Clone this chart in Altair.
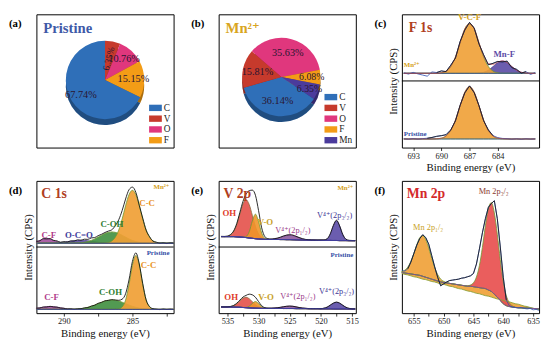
import math
import altair as alt
import pandas as pd

SERIF = "Times New Roman, Liberation Serif, DejaVu Serif, serif"
W, H1, H2 = 140, 136, 135
OFF = 70  # upper spectrum sits in the upper half of the stacked panels

# ---------------- data ----------------
# (a) Pristine composition (clockwise from 12 o'clock)
pie_a_elem = ["V", "O", "F", "C"]
pie_a_val = [6.35, 10.76, 15.15, 67.74]
legend_a = ["C", "V", "O", "F"]
# (b) Mn2+ composition (clockwise)
pie_b_elem = ["O", "F", "Mn", "C", "V"]
pie_b_val = [35.63, 6.08, 6.35, 36.14, 15.81]
legend_b = ["C", "V", "O", "F", "Mn"]

# (c) F 1s
E_c = [694.0, 693.5, 693.0, 692.5, 692.0, 691.5, 691.0, 690.5, 690.0, 689.5,
       689.0, 688.5, 688.0, 687.5, 687.0, 686.5, 686.0, 685.5, 685.0, 684.5,
       684.0, 683.5, 683.0, 682.5, 682.0, 681.5, 681.0, 680.5, 680.0]
c_mn_bg = 8
c_mn_vcf = [0, 0, 0, 0, 0, 0, 0, 0, 0.6, 2.3,
            7.2, 17.2, 32.1, 46.8, 52.0, 46.8, 32.1, 17.2, 7.2, 2.3,
            0.6, 0, 0, 0, 0, 0, 0, 0, 0]
c_mn_mnf = [0, 0, 0, 0, 0, 0, 0, 0, 0, 0,
            0, 0, 0, 0, 0, 0, 0.3, 1.1, 3.2, 7.1,
            11.2, 13.0, 11.2, 7.1, 3.2, 1.1, 0.3, 0, 0]
c_mn_raw = [0.5, -0.8, 1.0, -0.6, -1.8, -3.0, 1.5, 0.8, 2.5, 1.8,
            8.5, 16.0, 33.5, 45.5, 53.5, 47.5, 31.0, 19.5, 9.0, 10.5,
            12.5, 12.0, 12.8, 6.0, 4.2, 0.2, 1.8, -1.2, 0.9]
c_pr_bg = 9
c_pr_vcf = [0, 0, 0, 0, 0, 0, 0, 0.2, 0.9, 3.2,
            9.0, 19.9, 34.9, 49.1, 55.0, 49.1, 34.9, 19.9, 9.0, 3.2,
            0.9, 0.2, 0, 0, 0, 0, 0, 0, 0]
c_pr_raw = [0.3, -0.3, 0.5, -0.2, 0.4, 0.8, 1.6, 2.8, 3.5, 4.5,
            9.5, 19.0, 35.5, 48.5, 55.8, 48.6, 35.2, 19.2, 9.6, 3.5,
            1.5, 0.6, 0.4, -0.3, 0.3, -0.4, 0.3, -0.2, 0.2]

# (d) C 1s
E_d = [292.0, 291.75, 291.5, 291.25, 291.0, 290.75, 290.5, 290.25, 290.0, 289.75,
       289.5, 289.25, 289.0, 288.75, 288.5, 288.25, 288.0, 287.75, 287.5, 287.25,
       287.0, 286.75, 286.5, 286.25, 286.0, 285.75, 285.5, 285.25, 285.0, 284.75,
       284.5, 284.25, 284.0, 283.75, 283.5, 283.25, 283.0, 282.75, 282.5, 282.25,
       282.0]
d_mn_bg = 4
d_mn_cf = [1.6, 3.0, 4.4, 5.0, 4.4, 3.0, 1.6, 0.7, 0.2, 0,
           0, 0, 0, 0, 0, 0, 0, 0, 0, 0,
           0, 0, 0, 0, 0, 0, 0, 0, 0, 0,
           0, 0, 0, 0, 0, 0, 0, 0, 0, 0,
           0]
d_mn_oco = [0, 0, 0, 0, 0.1, 0.3, 0.5, 0.7, 1.1, 1.6,
            2.1, 2.6, 2.9, 3.0, 2.9, 2.6, 2.1, 1.6, 1.1, 0.7,
            0.5, 0.3, 0.1, 0, 0, 0, 0, 0, 0, 0,
            0, 0, 0, 0, 0, 0, 0, 0, 0, 0,
            0]
d_mn_coh = [0, 0, 0, 0, 0, 0, 0, 0, 0, 0,
            0, 0.1, 0.3, 0.5, 1.0, 1.8, 3.0, 4.6, 6.5, 8.5,
            10.3, 11.5, 12.0, 11.5, 10.3, 8.5, 6.5, 4.6, 3.0, 1.8,
            1.0, 0.5, 0.3, 0.1, 0, 0, 0, 0, 0, 0,
            0]
d_mn_cc = [0, 0, 0, 0, 0, 0, 0, 0, 0, 0,
           0, 0, 0, 0, 0, 0, 0, 0, 0, 0,
           0.2, 0.8, 2.5, 6.4, 13.9, 25.6, 39.6, 51.4, 56.0, 51.4,
           39.6, 25.6, 13.9, 6.4, 2.5, 0.8, 0.2, 0, 0, 0,
           0]
d_mn_raw = [2.0, 2.6, 4.9, 4.6, 4.9, 3.0, 2.5, 1.1, 1.7, 1.3,
            2.5, 2.4, 3.6, 3.2, 4.3, 4.1, 5.6, 6.0, 8.0, 9.5,
            11.4, 12.9, 14.2, 18.6, 24.8, 34.6, 46.8, 56.6, 59.4, 53.8,
            40.2, 26.6, 13.8, 6.9, 2.2, 1.1, 0.0, 0.4, -0.3, 0.3,
            0.1]
d_pr_bg = 4
d_pr_cf = [1.1, 1.7, 2.3, 2.8, 3.0, 2.8, 2.3, 1.7, 1.1, 0.6,
           0.3, 0.1, 0, 0, 0, 0, 0, 0, 0, 0,
           0, 0, 0, 0, 0, 0, 0, 0, 0, 0,
           0, 0, 0, 0, 0, 0, 0, 0, 0, 0,
           0]
d_pr_coh = [0, 0, 0, 0, 0, 0, 0, 0, 0, 0,
            0.1, 0.2, 0.4, 0.8, 1.4, 2.2, 3.3, 4.6, 6.1, 7.6,
            8.8, 9.7, 10.0, 9.7, 8.8, 7.6, 6.1, 4.6, 3.3, 2.2,
            1.4, 0.8, 0.4, 0.2, 0.1, 0, 0, 0, 0, 0,
            0]
d_pr_cc = [0, 0, 0, 0, 0, 0, 0, 0, 0, 0,
           0, 0, 0, 0, 0, 0, 0, 0, 0, 0,
           0, 0, 0, 0, 0.4, 2.5, 9.8, 26.1, 46.9, 57.0,
           46.9, 26.1, 9.8, 2.5, 0.4, 0, 0, 0, 0, 0,
           0]
d_pr_raw = [1.3, 1.5, 2.5, 2.6, 3.2, 2.6, 2.4, 1.5, 1.2, 0.4,
            0.6, 0.1, 0.6, 0.7, 1.6, 2.0, 3.5, 4.4, 6.4, 7.4,
            9.1, 9.5, 10.3, 9.9, 9.6, 10.8, 16.5, 31.2, 50.8, 59.8,
            48.0, 27.4, 10.0, 3.0, 0.7, 0.2, -0.2, 0.3, -0.1, 0.2,
            0.0]

# (e) V 2p
E_e = [536.0, 535.5, 535.0, 534.5, 534.0, 533.5, 533.0, 532.5, 532.0, 531.5,
       531.0, 530.5, 530.0, 529.5, 529.0, 528.5, 528.0, 527.5, 527.0, 526.5,
       526.0, 525.5, 525.0, 524.5, 524.0, 523.5, 523.0, 522.5, 522.0, 521.5,
       521.0, 520.5, 520.0, 519.5, 519.0, 518.5, 518.0, 517.5, 517.0, 516.5,
       516.0, 515.5, 515.0, 514.5]
e_mn_bg = [11, 11, 11, 11, 11, 10.8, 10.6, 10.3, 10.0, 9.6,
           9.2, 8.8, 8.5, 8.3, 8.1, 8.0, 8.0, 8.0, 8.0, 7.9,
           7.9, 7.8, 7.8, 7.7, 7.6, 7.5, 7.4, 7.3, 7.3, 7.2,
           7.2, 7.1, 7.1, 7.0, 7.0, 7.0, 6.9, 6.9, 6.8, 6.8,
           6.8, 6.7, 6.7, 6.7]
e_mn_oh = [0, 0, 0.4, 1.8, 5.4, 13.0, 24.3, 35.3, 40.0, 35.3,
           24.3, 13.0, 5.4, 1.8, 0.4, 0, 0, 0, 0, 0,
           0, 0, 0, 0, 0, 0, 0, 0, 0, 0,
           0, 0, 0, 0, 0, 0, 0, 0, 0, 0,
           0, 0, 0, 0]
e_mn_vo = [0, 0, 0, 0, 0, 0, 0, 0.1, 1.1, 6.5,
           18.4, 26.0, 18.4, 6.5, 1.1, 0.1, 0, 0, 0, 0,
           0, 0, 0, 0, 0, 0, 0, 0, 0, 0,
           0, 0, 0, 0, 0, 0, 0, 0, 0, 0,
           0, 0, 0, 0]
e_mn_v12 = [0, 0, 0, 0, 0, 0, 0, 0, 0, 0,
            0, 0, 0, 0, 0, 0, 0.2, 0.6, 1.2, 2.3,
            3.5, 4.6, 5.0, 4.6, 3.5, 2.3, 1.2, 0.6, 0.2, 0,
            0, 0, 0, 0, 0, 0, 0, 0, 0, 0,
            0, 0, 0, 0]
e_mn_v32 = [0, 0, 0, 0, 0, 0, 0, 0, 0, 0,
            0, 0, 0, 0, 0, 0, 0, 0, 0, 0,
            0, 0, 0, 0, 0, 0, 0, 0, 0, 0,
            0, 0, 0, 0.2, 1.4, 6.4, 15.6, 21.0, 15.6, 6.4,
            1.4, 0.2, 0, 0]
e_mn_raw = [0.3, 0.2, 0.5, 2.2, 6.0, 14.0, 26.0, 38.0, 46.0, 50.0,
            51.0, 46.0, 30.0, 12.0, 3.0, 0.8, 0.4, 0.8, 1.4, 2.5,
            3.8, 4.8, 5.2, 4.9, 3.8, 2.6, 1.5, 0.8, 0.4, 0.2,
            0.1, 0.2, 0.3, 0.5, 1.8, 7.0, 16.0, 21.5, 15.5, 6.5,
            1.6, 0.4, 0.2, 0.1]
e_pr_bg = [6.5, 6.5, 6.5, 6.5, 6.4, 6.3, 6.2, 6.0, 5.8, 5.6,
           5.4, 5.3, 5.2, 5.1, 5.0, 5.0, 5.0, 5.0, 5.0, 5.0,
           4.9, 4.9, 4.9, 4.9, 4.8, 4.8, 4.8, 4.8, 4.7, 4.7,
           4.7, 4.7, 4.6, 4.6, 4.6, 4.6, 4.5, 4.5, 4.5, 4.5,
           4.5, 4.4, 4.4, 4.4]
e_pr_oh = [0, 0, 0.1, 0.5, 1.5, 3.6, 6.7, 9.7, 11.0, 9.7,
           6.7, 3.6, 1.5, 0.5, 0.1, 0, 0, 0, 0, 0,
           0, 0, 0, 0, 0, 0, 0, 0, 0, 0,
           0, 0, 0, 0, 0, 0, 0, 0, 0, 0,
           0, 0, 0, 0]
e_pr_vo = [0, 0, 0, 0, 0, 0, 0, 0, 0.3, 1.7,
           4.9, 7.0, 4.9, 1.7, 0.3, 0, 0, 0, 0, 0,
           0, 0, 0, 0, 0, 0, 0, 0, 0, 0,
           0, 0, 0, 0, 0, 0, 0, 0, 0, 0,
           0, 0, 0, 0]
e_pr_v12 = [0, 0, 0, 0, 0, 0, 0, 0, 0, 0,
            0, 0, 0, 0, 0, 0, 0.1, 0.3, 0.6, 1.1,
            1.8, 2.3, 2.5, 2.3, 1.8, 1.1, 0.6, 0.3, 0.1, 0,
            0, 0, 0, 0, 0, 0, 0, 0, 0, 0,
            0, 0, 0, 0]
e_pr_v32 = [0, 0, 0, 0, 0, 0, 0, 0, 0, 0,
            0, 0, 0, 0, 0, 0, 0, 0, 0, 0,
            0, 0, 0, 0, 0, 0, 0, 0, 0, 0,
            0, 0, 0.1, 0.6, 1.7, 3.8, 6.0, 7.0, 6.0, 3.8,
            1.7, 0.6, 0.1, 0]
e_pr_raw = [0.1, 0.1, 0.2, 0.6, 1.8, 4.2, 7.6, 11.0, 13.0, 14.5,
            14.0, 11.5, 7.0, 2.8, 0.8, 0.3, 0.2, 0.4, 0.7, 1.2,
            1.9, 2.4, 2.6, 2.4, 1.9, 1.2, 0.7, 0.4, 0.2, 0.1,
            0.1, 0.1, 0.2, 0.7, 1.8, 3.9, 6.1, 7.2, 6.1, 3.9,
            1.8, 0.7, 0.2, 0.1]

# (f) Mn 2p
E_f = [657.0, 656.5, 656.0, 655.5, 655.0, 654.5, 654.0, 653.5, 653.0, 652.5,
       652.0, 651.5, 651.0, 650.5, 650.0, 649.5, 649.0, 648.5, 648.0, 647.5,
       647.0, 646.5, 646.0, 645.5, 645.0, 644.5, 644.0, 643.5, 643.0, 642.5,
       642.0, 641.5, 641.0, 640.5, 640.0, 639.5, 639.0, 638.5, 638.0, 637.5,
       637.0, 636.5, 636.0, 635.5, 635.0, 634.5, 634.0]
f_lin = [42, 41, 40.5, 39.5, 38.5, 38, 37, 36, 35.5, 34.5,
         33.5, 33, 32, 31, 30.5, 29.5, 28.5, 28, 27, 26,
         25.5, 24.5, 23.5, 23, 22, 21, 20.5, 19.5, 18.5, 18,
         17, 16, 15, 14.5, 13.5, 12.5, 12, 11, 10, 9.5,
         8.5, 7.5, 7, 6, 5, 4.5, 4]
f_shirley = [43, 42.5, 42, 41.5, 41, 40.5, 40, 39, 38, 37,
             36, 35, 34, 33, 32.5, 32, 31.5, 31, 30.5, 30,
             29.5, 29, 28.5, 28.5, 28, 27.5, 27, 26.5, 26, 24.5,
             23, 20, 17, 13.5, 10, 8, 7, 6.5, 6, 5.8,
             5.6, 5.5, 5.4, 5.2, 5.0, 4.8, 4.5]
f_p12 = [1.2, 3.0, 6.8, 13.2, 22.1, 32.0, 39.9, 43.0, 39.9, 32.0,
         22.1, 13.2, 6.8, 3.0, 1.2, 0.4, 0, 0, 0, 0,
         0, 0, 0, 0, 0, 0, 0, 0, 0, 0,
         0, 0, 0, 0, 0, 0, 0, 0, 0, 0,
         0, 0, 0, 0, 0, 0, 0]
f_p32 = [0, 0, 0, 0, 0, 0, 0, 0, 0, 0,
         0, 0, 0, 0, 0, 0, 0, 0, 0, 0,
         0, 0, 0.4, 1.3, 4.1, 10.7, 23.4, 43.1, 66.5, 86.2,
         94.0, 86.2, 66.5, 43.1, 23.4, 10.7, 4.1, 1.3, 0.4, 0,
         0, 0, 0, 0, 0, 0, 0]
f_raw = [45, 44.5, 47, 54, 63, 72, 79, 83, 80, 73,
         61, 49, 38, 29, 31, 33, 34.5, 35, 35.5, 36,
         37, 37.5, 38.5, 39.5, 42, 52, 68, 85, 100, 112,
         116, 119, 100, 70, 38, 14, 8, 6.5, 6, 5.5,
         6, 5, 4.5, 5, 3.5, 4, 3]

# ---------------- styles ----------------
PIE_COL = {"C": "#2F6FB8", "V": "#C63A2C", "O": "#E0377D", "F": "#F39C16", "Mn": "#4B3B9C"}
ORANGE = "#F0A035"
GREEN = "#6E9A2E"
PURPLE = "#5B4BA6"
BLUE = "#2D4EB0"
GOLD = "#D4A020"
PBLUE = "#3550A6"
TITLE_RED = "#B0401E"


def add(*cols):
    return [sum(v) for v in zip(*cols)]


def const(v, n):
    return [v] * n


# ---------------- helpers ----------------
YAX = alt.Axis(title="Intensity (CPS)", labels=False, ticks=False, domain=False, grid=False,
               titleFont=SERIF, titleFontSize=11, titleFontWeight="normal",
               titleColor="#111", titlePadding=3)


def spec_y(field):
    return alt.Y(f"{field}:Q", scale=alt.Scale(domain=[0, 140], nice=False, zero=False), axis=YAX)


def spec_x(domain, ticks, expr=None):
    ax = dict(values=ticks, title="Binding energy (eV)", labelFont=SERIF, labelFontSize=8.5,
              labelColor="#222", tickColor="#000", tickSize=3, tickWidth=0.8, domain=False,
              grid=False, labelPadding=1, labelFlush=False, titleFont=SERIF, titleFontSize=11,
              titleFontWeight="normal", titleColor="#111", titlePadding=2)
    if expr:
        ax["labelExpr"] = expr
    return alt.X("E:Q", scale=alt.Scale(domain=domain, reverse=True, nice=False, zero=False),
                 axis=alt.Axis(**ax))


def band(X, E, lo, hi, fill, stroke=None, op=0.9, sw=0.8):
    df = pd.DataFrame({"E": E, "lo": lo, "hi": hi})
    kw = dict(fill=fill, fillOpacity=op, interpolate="monotone")
    if stroke:
        kw.update(stroke=stroke, strokeWidth=sw)
    else:
        kw.update(strokeWidth=0)
    return alt.Chart(df).mark_area(**kw).encode(x=X, y=spec_y("hi"), y2="lo:Q")


def curve(X, E, y, color, sw=0.8, filt=None, interp="monotone"):
    ch = alt.Chart(pd.DataFrame({"E": E, "lo": y}))
    if filt:
        ch = ch.transform_filter(filt)
    return ch.mark_line(color=color, strokeWidth=sw, interpolate=interp).encode(x=X, y=spec_y("lo"))


def note(X, E, I, txt, color, size=9, weight="bold", align="center"):
    df = pd.DataFrame({"E": [E], "lo": [I], "t": [txt]})
    return alt.Chart(df).mark_text(font=SERIF, fontSize=size, fontWeight=weight, color=color,
                                   align=align, baseline="middle").encode(
        x=X, y=spec_y("lo"), text="t:N")


def ptext(txt, x, y, color, size, weight="bold", align="left"):
    return alt.Chart(pd.DataFrame({"t": [txt]})).mark_text(
        font=SERIF, fontSize=size, fontWeight=weight, color=color, align=align,
        baseline="middle").encode(x=alt.value(x), y=alt.value(y), text="t:N")


def tag(t):
    return ptext(t, -28, 10, "#000", 11)


def divider():
    return alt.Chart(pd.DataFrame({"lo": [OFF]})).mark_rule(color="black", strokeWidth=1).encode(
        y=spec_y("lo"))


# ---------------- pies ----------------
def pie(elems, vals, dom, start, title, tcolor, t, cx, cy, big_r, rot_small=False):
    df = pd.DataFrame({"elem": elems, "val": vals, "ord": list(range(len(elems))),
                       "lab": [f"{v:.2f}%" for v in vals]})
    R = 40
    theta = alt.Theta("val:Q", stack=True,
                      scale=alt.Scale(range=[start, start + 2 * math.pi]))
    color = alt.Color("elem:N", scale=alt.Scale(domain=dom, range=[PIE_COL[e] for e in dom]),
                      legend=alt.Legend(title=None, orient="bottom-right", offset=3,
                                        symbolType="M-1,-0.5H1V0.5H-1Z", symbolSize=169,
                                        symbolStrokeWidth=0, labelFont=SERIF, labelFontSize=9.5,
                                        labelColor="#222", rowPadding=0, labelOffset=2,
                                        padding=0, columnPadding=0))
    base = alt.Chart(df).encode(theta=theta, order=alt.Order("ord:Q"))
    side = base.mark_arc(radius=R).encode(color=color, x=alt.value(cx), y=alt.value(cy + 6))
    shade = base.mark_arc(radius=R, color="black", opacity=0.3).encode(
        x=alt.value(cx), y=alt.value(cy + 6))
    top = base.mark_arc(radius=R).encode(color=color, x=alt.value(cx), y=alt.value(cy))
    big = base.mark_text(radius=big_r, font=SERIF, fontSize=10.5, color="#2a1530").encode(
        x=alt.value(cx), y=alt.value(cy),
        text=alt.condition("datum.val > 10", alt.Text("lab:N"), alt.value("")))
    if rot_small:
        small = base.mark_text(radius=31, font=SERIF, fontSize=9.5, color="#2a1530",
                               angle=284, dx=-9).encode(
            x=alt.value(cx), y=alt.value(cy),
            text=alt.condition("datum.val < 10", alt.Text("lab:N"), alt.value("")))
    else:
        small = base.mark_text(radius=31, font=SERIF, fontSize=10, color="#2a1530").encode(
            x=alt.value(cx), y=alt.value(cy),
            text=alt.condition("datum.val < 10", alt.Text("lab:N"), alt.value("")))
    return alt.layer(side, shade, top, big, small,
                     ptext(title, 7, 14, tcolor, 15), tag(t)).properties(width=W, height=H1)


pa = pie(pie_a_elem, pie_a_val, legend_a, 0.0, "Pristine", "#3F5AA8", "(a)", 70, 67, 29,
         rot_small=True)
pb = pie(pie_b_elem, pie_b_val, legend_b, 2 * math.pi - 0.855, "Mn²⁺", "#D9A520", "(b)",
         64, 64, 25)

# ---------------- (c) F 1s ----------------
Xc = spec_x([679.6, 694.2], [693, 690, 687, 684])
n = len(E_c)
cm0 = const(OFF + c_mn_bg, n)
cp0 = const(c_pr_bg, n)
pc = alt.layer(
    band(Xc, E_c, cm0, add(cm0, c_mn_mnf), PURPLE, stroke="#4a3a8a"),
    band(Xc, E_c, cm0, add(cm0, c_mn_vcf), ORANGE, stroke=GREEN),
    band(Xc, E_c, cp0, add(cp0, c_pr_vcf), ORANGE, stroke=GREEN),
    curve(Xc, E_c, cm0, BLUE, 0.7),
    curve(Xc, E_c, cp0, BLUE, 0.7),
    curve(Xc, E_c, add(cm0, c_mn_raw), BLUE, 0.8, interp="linear"),
    curve(Xc, E_c, add(cp0, c_pr_raw), BLUE, 0.8, interp="linear"),
    curve(Xc, E_c, add(cm0, c_mn_vcf, c_mn_mnf), "#d23a3a", 0.6),
    curve(Xc, E_c, add(cp0, c_pr_vcf), "#d23a3a", 0.6),
    curve(Xc, E_c, add(cm0, c_mn_raw), "#111", 0.8,
          filt="datum.E <= 690.5 && datum.E >= 681", interp="linear"),
    curve(Xc, E_c, add(cp0, c_pr_raw), "#111", 0.8,
          filt="datum.E <= 691.5 && datum.E >= 684.5", interp="linear"),
    divider(),
    ptext("F 1s", 7, 14, TITLE_RED, 14),
    note(Xc, 687.0, 137.5, "V-C-F", GOLD, 9),
    note(Xc, 683.3, 98, "Mn-F", PURPLE, 9),
    note(Xc, 694.0, 87, "Mn²⁺", GOLD, 7, align="left"),
    note(Xc, 694.0, 14, "Pristine", PBLUE, 7, align="left"),
    tag("(c)"),
).properties(width=W, height=H1)

# ---------------- (d) C 1s ----------------
Xd = spec_x([282, 292], [290, 287.5, 285, 282.5], "datum.value % 5 == 0 ? datum.label : ''")
n = len(E_d)
dm0 = const(OFF + d_mn_bg, n)
dp0 = const(d_pr_bg, n)
pdd = alt.layer(
    band(Xd, E_d, dm0, add(dm0, d_mn_cf), "#A3509C", stroke="#8a3a8a"),
    band(Xd, E_d, dm0, add(dm0, d_mn_oco), "#5A4DA0", stroke="#4a3a8a"),
    band(Xd, E_d, dm0, add(dm0, d_mn_coh), "#3F8F3F", stroke=GREEN),
    band(Xd, E_d, dm0, add(dm0, d_mn_cc), ORANGE, stroke=GREEN, op=0.92),
    band(Xd, E_d, dp0, add(dp0, d_pr_cf), "#A3509C", stroke="#8a3a8a"),
    band(Xd, E_d, dp0, add(dp0, d_pr_coh), "#3F8F3F", stroke=GREEN),
    band(Xd, E_d, dp0, add(dp0, d_pr_cc), ORANGE, stroke=GREEN, op=0.92),
    curve(Xd, E_d, add(dm0, d_mn_raw), "#111", 0.9),
    curve(Xd, E_d, add(dp0, d_pr_raw), "#111", 0.9),
    curve(Xd, E_d, dm0, "#3D3DA0", 0.9),
    curve(Xd, E_d, dp0, "#3D3DA0", 0.9),
    divider(),
    ptext("C 1s", 5, 13, TITLE_RED, 14),
    note(Xd, 282.3, 133, "Mn²⁺", GOLD, 7, align="right"),
    note(Xd, 284.5, 117, "C-C", "#E8921E", 9, align="left"),
    note(Xd, 286.5, 94, "C-OH", "#2E7D32", 9),
    note(Xd, 288.9, 83, "O-C=O", "#3B3B9A", 9),
    note(Xd, 291.1, 83, "C-F", "#B03A8A", 9),
    note(Xd, 282.3, 64, "Pristine", PBLUE, 7, align="right"),
    note(Xd, 284.4, 51, "C-C", "#E8921E", 9, align="left"),
    note(Xd, 286.6, 22, "C-OH", "#2E7D32", 9),
    note(Xd, 290.9, 17, "C-F", "#B03A8A", 9),
    tag("(d)"),
).properties(width=W, height=H2)

# ---------------- (e) V 2p ----------------
Xe = spec_x([514.4, 536.4], [535, 532.5, 530, 527.5, 525, 522.5, 520, 517.5, 515],
            "datum.value % 5 == 0 ? datum.label : ''")
em0 = [OFF + b for b in e_mn_bg]
ep0 = e_pr_bg
pe = alt.layer(
    band(Xe, E_e, em0, add(em0, e_mn_oh), "#E4514A", stroke="#8a6a3a"),
    band(Xe, E_e, em0, add(em0, e_mn_vo), "#F0952A", stroke=GREEN),
    band(Xe, E_e, em0, add(em0, e_mn_v12), "#8E5A9E", stroke="#6a3a7a"),
    band(Xe, E_e, em0, add(em0, e_mn_v32), PURPLE, stroke="#4a3a8a"),
    band(Xe, E_e, ep0, add(ep0, e_pr_oh), "#E4514A", stroke="#8a6a3a"),
    band(Xe, E_e, ep0, add(ep0, e_pr_vo), "#F0952A", stroke=GREEN),
    band(Xe, E_e, ep0, add(ep0, e_pr_v12), "#8E5A9E", stroke="#6a3a7a"),
    band(Xe, E_e, ep0, add(ep0, e_pr_v32), PURPLE, stroke="#4a3a8a"),
    curve(Xe, E_e, add(em0, e_mn_raw), "#111", 0.9),
    curve(Xe, E_e, add(ep0, e_pr_raw), "#111", 0.9),
    curve(Xe, E_e, em0, "#3D3DA0", 0.9),
    curve(Xe, E_e, ep0, "#3D3DA0", 0.9),
    divider(),
    ptext("V 2p", 5, 13, TITLE_RED, 14),
    note(Xe, 514.8, 132, "Mn²⁺", GOLD, 7, align="right"),
    note(Xe, 534.7, 106, "OH", "#E03A2A", 9),
    note(Xe, 528.9, 96, "V-O", "#C8A02A", 9),
    note(Xe, 524.5, 88, "V⁴⁺(2p₁/₂)", "#9A3A8A", 8.5, weight="normal"),
    note(Xe, 517.8, 104, "V⁴⁺(2p₃/₂)", "#3F3596", 8.5, weight="normal"),
    note(Xe, 514.8, 62, "Pristine", PBLUE, 7, align="right"),
    note(Xe, 534.4, 17, "OH", "#E03A2A", 9),
    note(Xe, 528.8, 17, "V-O", "#C8A02A", 9),
    note(Xe, 523.7, 18, "V⁴⁺(2p₁/₂)", "#9A3A8A", 8.5, weight="normal"),
    note(Xe, 517.5, 23, "V⁴⁺(2p₃/₂)", "#3F3596", 8.5, weight="normal"),
    tag("(e)"),
).properties(width=W, height=H2)

# ---------------- (f) Mn 2p ----------------
Xf = spec_x([634, 657], [655, 652.5, 650, 647.5, 645, 642.5, 640, 637.5, 635],
            "datum.value % 5 == 0 ? datum.label : ''")
pf = alt.layer(
    band(Xf, E_f, f_lin, add(f_shirley, f_p12), ORANGE, stroke=None, op=0.9),
    band(Xf, E_f, f_shirley, add(f_shirley, f_p12), ORANGE, stroke=GREEN, op=0.0),
    band(Xf, E_f, f_shirley, add(f_shirley, f_p32), "#E8504F", stroke=GREEN, op=0.92),
    curve(Xf, E_f, f_lin, "#8AA23A", 0.9),
    curve(Xf, E_f, f_shirley, "#7D4A9E", 0.9),
    curve(Xf, E_f, f_raw, BLUE, 0.8, interp="linear"),
    curve(Xf, E_f, f_raw, "#111", 0.8, filt="datum.E <= 656 && datum.E >= 639.5",
          interp="linear"),
    ptext("Mn 2p", 5, 13, "#D42A2A", 14),
    note(Xf, 641.6, 129, "Mn 2p₃/₂", "#8B3A2E", 8.5, weight="normal"),
    note(Xf, 652.6, 91, "Mn 2p₁/₂", "#C9A227", 8.5, weight="normal"),
    tag("(f)"),
).properties(width=W, height=H2)

chart = alt.concat(pa, pb, pc, pdd, pe, pf, columns=3,
                   spacing={"row": 7, "column": 14}).resolve_scale(
    color="independent", theta="independent"
).properties(padding={"left": 0, "right": 0, "top": 0, "bottom": 0}).configure(
    font=SERIF
).configure_view(stroke="black", strokeWidth=1)

chart.save("out.html", embed_options={"renderer": "svg", "actions": False})
